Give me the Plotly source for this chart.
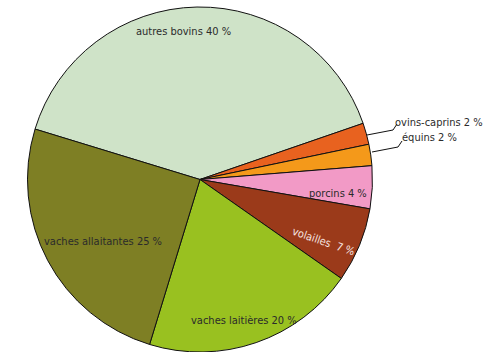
import plotly.graph_objects as go

# Répartition du cheptel (en %)
categories = ["autres bovins", "ovins-caprins", "équins", "porcins",
              "volailles", "vaches laitières", "vaches allaitantes"]
values = [40, 2, 2, 4, 7, 20, 25]
colors = ["#cfe3c8", "#e8621f", "#f4991a", "#f29ac6",
          "#9b3a1a", "#99c120", "#7e7f24"]
labels = [f"{c} {v} %" for c, v in zip(categories, values)]
labels[4] = f"{categories[4]}  {values[4]} %"

W, H = 486, 352
M_T, M_B, M_L, M_R = 7, 0, 0, 0
FONT = "Liberation Sans Narrow, Arial Narrow, DejaVu Sans Condensed, sans-serif"


def px(x):
    return (x - M_L) / (W - M_L - M_R)


def py(y):
    return (H - M_B - y) / (H - M_T - M_B)


fig = go.Figure(go.Pie(
    labels=categories,
    values=values,
    sort=False,
    direction="clockwise",
    rotation=-73,
    marker=dict(colors=colors, line=dict(color="#111111", width=1)),
    textinfo="none",
    hoverinfo="label+percent",
    domain=dict(x=[0, px(400)], y=[0, 1]),
))

# label placement (pixel anchors), text colour, angle
label_pos = [
    (183, 32, "#2b2b2b", 0),
    (439, 122, "#2b2b2b", 0),
    (429, 137, "#2b2b2b", 0),
    (338, 193, "#2b2b2b", 0),
    (323, 241, "#f6e4e0", 19),
    (244, 320, "#2b2b2b", 0),
    (103, 241, "#2b2b2b", 0),
]
annotations = []
for text, (x, y, col, ang) in zip(labels, label_pos):
    annotations.append(dict(
        x=px(x), y=py(y), xref="paper", yref="paper", text=text,
        showarrow=False, textangle=ang, xanchor="center", yanchor="middle",
        font=dict(family=FONT, size=11, color=col),
    ))

# leader lines for the two narrow slices
leaders = [
    [(367, 135), (393, 130), (397, 124)],
    [(372, 152), (398, 147), (402, 141)],
]
shapes = []
for pts in leaders:
    path = "M " + " L ".join(f"{px(a)},{py(b)}" for a, b in pts)
    shapes.append(dict(type="path", path=path, xref="paper", yref="paper",
                       line=dict(color="#111111", width=1)))

fig.update_layout(
    width=W, height=H,
    margin=dict(l=M_L, r=M_R, t=M_T, b=M_B),
    paper_bgcolor="white", plot_bgcolor="white",
    showlegend=False,
    annotations=annotations,
    shapes=shapes,
)

fig.write_html("out.html")
